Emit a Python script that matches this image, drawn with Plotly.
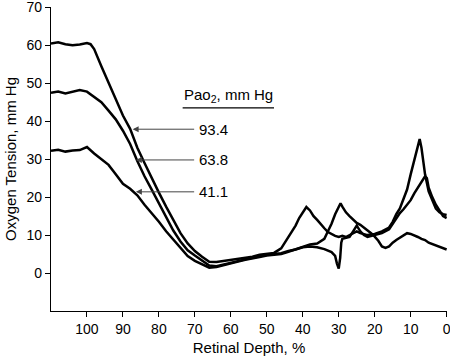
import plotly.graph_objects as go

# Retinal depth (%) and oxygen tension (mm Hg) for three arterial Pao2 levels
depth_934 = [110, 108, 106, 104, 102, 100, 99, 98, 96, 94, 92, 90, 88, 86, 84, 82, 80, 78, 76, 74, 72, 70, 68, 66, 64, 62, 60, 58, 56, 54, 52, 50, 48,
             46, 44, 42, 41, 40, 39, 38, 37, 36, 35, 34, 33, 32, 31, 30, 29, 28, 27, 26, 25, 24, 22, 20, 18, 16, 15, 14, 13, 12, 11, 10, 9, 8, 7.5, 7, 6.5, 6, 5, 4, 3, 2, 1, 0]
po2_934 = [60.5, 60.8, 60.3, 60.0, 60.2, 60.6, 60.3, 59.0, 54.5, 50.0, 45.5, 41.5, 38.0, 33.0, 29.0, 25.0, 21.2, 17.5, 13.8, 10.5, 7.8, 5.8, 4.3, 3.0, 2.9, 3.2, 3.5, 3.8, 4.0, 4.3, 4.8, 5.0, 5.3,
           6.5, 9.5, 12.5, 14.5, 16.0, 17.4, 16.5, 15.0, 14.0, 12.8, 11.8, 10.8, 10.2, 9.8, 9.5, 9.8, 9.5, 10.0, 10.5, 11.0, 10.5, 10.0, 10.3, 11.0, 12.0, 13.5, 15.5, 17.0, 19.5, 22.0, 26.0, 30.0, 34.0, 35.3, 33.0, 30.0, 26.0, 21.5, 19.0, 17.0, 16.0, 15.5, 15.3]

depth_638 = [110, 108, 106, 104, 102, 100, 98, 96, 94, 92, 90, 88, 86, 84, 82, 80, 78, 76, 74, 72, 70, 68, 66, 64, 62, 60, 58, 56, 54, 52, 50, 48,
             46, 44, 42, 40, 38, 36, 34, 32, 31, 30.5, 30, 29.6, 29.3, 29, 28, 27, 26, 25, 24, 23, 22, 20, 18, 16, 15, 14, 13, 12, 11, 10, 9, 8, 7, 6, 5.5, 5, 4, 3, 2, 1, 0]
po2_638 = [47.5, 47.8, 47.3, 47.8, 48.2, 47.8, 46.5, 45.0, 42.8, 40.5, 37.5, 34.0, 29.5, 25.5, 22.0, 18.5, 14.8, 11.2, 8.3, 6.0, 4.6, 3.2, 2.0, 1.8, 2.3, 2.8, 3.3, 3.6, 4.0, 4.5, 4.8, 5.0,
           5.2, 5.8, 6.2, 6.8, 7.0, 6.8, 6.3, 5.5, 4.5, 2.5, 1.2, 4.0, 8.0, 9.0, 9.3, 9.5, 11.0, 12.5, 11.0, 10.0, 9.5, 10.0, 10.5, 11.5, 13.0, 14.5, 15.8, 16.8, 18.0, 19.2, 21.0, 22.5, 24.0, 25.5, 25.0, 22.5, 20.0, 18.0, 16.5, 15.0, 14.5]

depth_411 = [110, 108, 106, 104, 102, 100, 98, 96, 94, 92, 90, 88, 86, 84, 82, 80, 78, 76, 74, 72, 70, 68, 66, 64, 62, 60, 58, 56, 54, 52, 50, 48,
             46, 44, 42, 40, 38, 36, 34, 33, 32, 31, 30, 29.5, 29, 28, 27, 26, 25, 24, 23, 22, 21, 20, 19, 18, 17, 16, 15, 14, 13, 12, 11, 10, 9, 8, 7, 6, 5, 4, 3, 2, 1, 0]
po2_411 = [32.2, 32.5, 32.0, 32.3, 32.4, 33.2, 31.5, 30.0, 28.5, 26.0, 23.5, 22.2, 20.5, 18.0, 15.8, 13.5, 11.0, 8.8, 6.5, 4.5, 3.2, 2.2, 1.4, 1.6, 2.0, 2.5, 3.0, 3.5, 3.8, 4.2, 4.6, 4.8,
           5.0, 5.6, 6.2, 6.8, 7.5, 7.8, 9.0, 11.0, 13.0, 15.5, 17.5, 18.4, 17.5, 16.0, 15.0, 14.0, 13.2, 12.7, 12.0, 11.4, 10.5, 9.6, 8.5, 7.0, 6.6, 7.0, 8.0, 8.7, 9.3, 10.0, 10.5, 10.3, 10.0, 9.5, 9.0, 8.7, 8.0, 7.6, 7.2, 6.8, 6.5, 6.2]

series_names = ["93.4", "63.8", "41.1"]
x_ticks = [100, 90, 80, 70, 60, 50, 40, 30, 20, 10, 0]
y_ticks = [0, 10, 20, 30, 40, 50, 60, 70]

# label positions (data coords): arrow head, arrow tail / label anchor
arrow_heads = [(87.3, 37.9), (86.4, 29.8), (86.4, 21.4)]
arrow_tails = [(70.2, 37.9), (70.2, 29.8), (70.2, 21.4)]

FONT = "Liberation Sans, Arial, Helvetica, sans-serif"

fig = go.Figure()
for name, xs, ys in zip(series_names, [depth_934, depth_638, depth_411], [po2_934, po2_638, po2_411]):
    fig.add_trace(go.Scatter(x=xs, y=ys, mode="lines", name=name,
                             line=dict(color="black", width=2.5), showlegend=False))

for (hx, hy), (tx, ty), name in zip(arrow_heads, arrow_tails, series_names):
    fig.add_annotation(x=hx, y=hy, xref="x", yref="y", text=name, showarrow=True,
                       axref="x", ayref="y", ax=tx, ay=ty,
                       xanchor="left", yanchor="middle", borderpad=4,
                       arrowhead=2, arrowsize=1.2, arrowwidth=1, arrowcolor="#444",
                       font=dict(family=FONT, size=15, color="black"))

fig.add_annotation(x=60.6, y=46.8, xref="x", yref="y", text="Pao<sub>2</sub>, mm Hg", showarrow=False,
                   xanchor="center", yanchor="middle", font=dict(family=FONT, size=15, color="black"))
fig.add_shape(type="line", xref="x", yref="y", x0=73.4, x1=48.0, y0=43.5, y1=43.5,
              line=dict(color="black", width=1.3))

fig.update_xaxes(range=[110, -0.1], tickvals=x_ticks, ticks="outside", ticklen=5, tickcolor="black",
                 showline=True, linecolor="black", linewidth=1.2, showgrid=False, zeroline=False,
                 ticklabeloverflow="allow", automargin=False,
                 title=dict(text="Retinal Depth, %", font=dict(family=FONT, size=15, color="black"), standoff=6),
                 tickfont=dict(family=FONT, size=14, color="black"))
fig.update_yaxes(range=[-10, 70.1], tickvals=y_ticks, ticks="outside", ticklen=5, tickcolor="black",
                 showline=True, linecolor="black", linewidth=1.2, showgrid=False, zeroline=False,
                 ticklabeloverflow="allow", automargin=False,
                 title=dict(text="Oxygen Tension, mm Hg", font=dict(family=FONT, size=15, color="black"), standoff=6),
                 tickfont=dict(family=FONT, size=14, color="black"))

fig.update_layout(width=450, height=356, margin=dict(l=51, r=3, t=7, b=45, autoexpand=False),
                  paper_bgcolor="white", plot_bgcolor="white")

fig.write_html("out.html", config={"displayModeBar": False},
               post_script="document.body.style.margin='0';document.body.style.overflow='hidden';")
